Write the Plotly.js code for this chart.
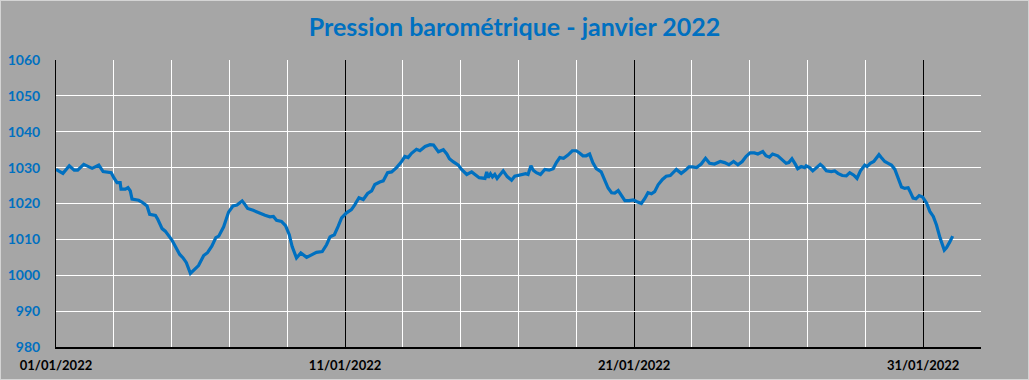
<!DOCTYPE html>
<html>
<head>
<meta charset="utf-8">
<script src="https://cdn.plot.ly/plotly-3.0.1.min.js"></script>
<style>
html,body{margin:0;padding:0;background:#a6a6a6;}
#chart{width:1027px;height:378px;border:1px solid #d4d4d4;}
</style>
</head>
<body>
<div id="chart"></div>
<script>
// Days elapsed since 01/01/2022 00:00
const days = [
0,0.24,0.46,0.63,0.75,0.96,1.25,1.48,1.63,1.82,1.91,2.0,2.11,2.22,2.25,2.4,2.49,2.57,2.63,2.86,2.97,
3.15,3.24,3.44,3.52,3.67,3.78,4.01,4.13,4.28,4.39,4.51,4.65,4.78,4.93,5.11,5.24,5.39,5.53,5.63,5.8,5.97,
6.12,6.26,6.44,6.54,6.63,6.82,7.0,7.23,7.4,7.52,7.63,7.8,7.94,8.07,8.17,8.32,8.47,8.67,8.84,9.01,9.21,
9.36,9.48,9.63,9.76,9.88,10.05,10.22,10.34,10.48,10.63,10.78,10.92,11.03,11.2,11.32,11.47,11.61,11.78,
11.93,12.07,12.18,12.3,12.47,12.59,12.77,12.94,13.06,13.23,13.4,13.52,13.61,13.75,13.92,14.03,14.21,
14.38,14.49,14.64,14.84,14.9,14.95,15.03,15.1,15.18,15.26,15.36,15.47,15.61,15.76,15.87,16.05,16.25,
16.33,16.43,16.51,16.62,16.76,16.91,17.06,17.2,17.31,17.43,17.56,17.71,17.86,18.0,18.11,18.23,18.34,
18.46,18.57,18.69,18.86,18.95,19.1,19.22,19.33,19.45,19.56,19.68,19.83,19.97,20.1,20.25,20.37,20.48,
20.6,20.71,20.83,20.98,21.11,21.25,21.46,21.63,21.78,21.9,22.02,22.16,22.32,22.47,22.61,22.78,22.98,
23.13,23.28,23.44,23.59,23.74,23.87,24.01,24.16,24.28,24.45,24.56,24.68,24.79,24.97,25.14,25.26,25.35,
25.46,25.58,25.66,25.78,25.9,25.95,26.07,26.18,26.3,26.44,26.53,26.65,26.82,26.94,27.05,27.2,27.34,
27.46,27.6,27.71,27.83,27.98,28.06,28.17,28.29,28.38,28.47,28.55,28.67,28.79,28.9,29.02,29.13,29.25,
29.36,29.48,29.56,29.65,29.75,29.86,29.98,30.12,30.23,30.35,30.46,30.58,30.73,30.81,30.92,31.02
];
// Barometric pressure, hPa
const pressure = [
1029.5,1028.4,1030.5,1029.3,1029.3,1030.9,1029.8,1030.7,1028.9,1028.6,1028.6,1027.2,1025.8,1025.8,1024.0,1024.0,1024.4,1023.5,1021.2,1020.9,1020.4,
1019.3,1017.0,1016.7,1015.6,1013.0,1012.3,1009.8,1008.1,1005.8,1004.9,1003.5,1000.5,1001.6,1002.7,1005.5,1006.3,1008.1,1010.5,1010.9,1013.5,1017.6,
1019.3,1019.6,1020.7,1019.7,1018.6,1018.1,1017.4,1016.7,1016.3,1016.4,1015.3,1015.0,1013.8,1011.3,1008.0,1004.8,1006.2,1005.0,1005.7,1006.4,1006.6,
1008.5,1010.7,1011.3,1013.6,1016.0,1017.4,1018.3,1019.7,1021.6,1021.1,1022.8,1023.5,1025.3,1026.0,1026.3,1028.6,1028.8,1030.0,
1031.4,1033.1,1032.8,1034.0,1035.1,1034.7,1035.9,1036.4,1036.3,1034.4,1035.0,1033.8,1032.5,1031.6,1030.7,1029.5,1028.1,
1028.8,1028.1,1027.2,1027.0,1028.8,1027.2,1028.3,1027.4,1028.1,1027.0,1028.1,1029.1,1027.5,1026.5,1027.6,1027.9,1028.3,
1028.1,1030.5,1029.3,1028.6,1028.1,1029.5,1029.3,1029.7,1031.4,1032.8,1032.6,1033.5,1034.7,1034.7,1034.1,1033.3,1033.3,
1033.8,1031.4,1029.7,1028.8,1027.1,1024.3,1023.0,1022.9,1023.6,1022.1,1020.8,1020.8,1021.0,1020.5,1020.0,1021.4,1023.0,
1022.7,1023.3,1025.2,1026.7,1027.6,1027.8,1029.5,1028.4,1029.3,1030.2,1030.2,1030.0,1031.0,1032.6,1031.2,1031.0,1031.7,
1031.4,1030.8,1031.7,1030.8,1031.7,1033.1,1034.1,1034.1,1033.8,1034.5,1033.3,1032.9,1033.8,1033.3,1032.2,1031.2,1031.4,
1032.5,1030.9,1029.7,1030.3,1030.0,1030.5,1030.0,1029.1,1030.0,1030.9,1030.3,1029.1,1028.9,1029.1,1028.4,1027.8,1027.7,
1028.6,1027.9,1027.0,1029.1,1030.7,1030.3,1031.2,1031.7,1032.8,1033.6,1032.8,1031.7,1031.2,1030.7,1029.5,1027.2,1024.6,
1024.2,1024.4,1023.1,1021.5,1021.3,1022.2,1021.8,1020.1,1017.8,1016.4,1014.0,1010.5,1007.0,1007.7,1009.3,1010.9
];
const yTicks = [980, 990, 1000, 1010, 1020, 1030, 1040, 1050, 1060];
const xStart = '2022-01-01';
const xEnd = '2022-02-02';
const chartTitle = 'Pression barométrique - janvier 2022';

const T0 = Date.UTC(2022, 0, 1);
const DAY = 86400000;
const xs = days.map(d => T0 + d * DAY);

const trace = {
  x: xs, y: pressure, type: 'scatter', mode: 'lines',
  line: {color: '#0070c0', width: 3.2},
  hoverinfo: 'skip'
};

const layout = {
  width: 1027, height: 378,
  margin: {l: 55, r: 47, t: 59, b: 32, pad: 0},
  paper_bgcolor: '#a6a6a6', plot_bgcolor: '#a6a6a6',
  showlegend: false,
  title: {text: chartTitle, x: 0.5, xanchor: 'center', y: 0.93, yanchor: 'middle',
          font: {family: 'Lato, "Noto Sans", sans-serif', size: 25, color: '#0070c0', weight: 'bold'}},
  xaxis: {
    type: 'date', range: [xStart, xEnd],
    tick0: xStart, dtick: 10 * DAY, tickformat: '%d/%m/%Y',
    showgrid: true, gridcolor: '#000000', gridwidth: 1,
    minor: {dtick: 2 * DAY, showgrid: true, gridcolor: '#ffffff', gridwidth: 1, ticks: ''},
    showline: true, linecolor: '#000000', linewidth: 2,
    ticks: '', ticklabelstandoff: 5,
    tickfont: {family: 'Lato, "Noto Sans", sans-serif', size: 13, color: '#000000', weight: 'bold'},
    zeroline: false, fixedrange: true
  },
  yaxis: {
    range: [980, 1060], tickmode: 'array', tickvals: yTicks, ticktext: yTicks.map(String),
    showgrid: true, gridcolor: '#ffffff', gridwidth: 1,
    showline: true, linecolor: '#000000', linewidth: 1,
    ticks: '', ticklabelstandoff: 12,
    tickfont: {family: 'Lato, "Noto Sans", sans-serif', size: 14, color: '#0070c0', weight: 'bold'},
    zeroline: false, fixedrange: true
  }
};

Plotly.newPlot('chart', [trace], layout, {displayModeBar: false, staticPlot: true});
</script>
</body>
</html>
